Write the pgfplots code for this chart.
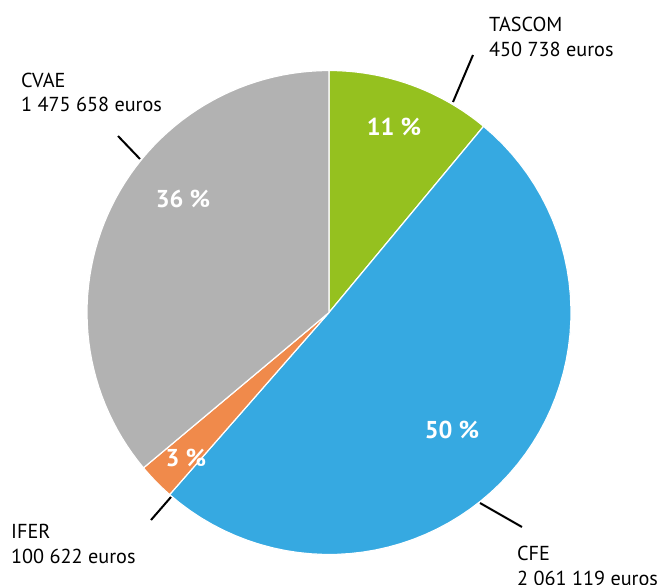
\documentclass[border=0pt]{standalone}
\usepackage{pgfplots}
\pgfplotsset{compat=1.18}
\usepackage{fontspec}
\setmainfont{PT Sans}
\definecolor{cgreen}{HTML}{95C11F}
\definecolor{cblue}{HTML}{36A9E1}
\definecolor{corange}{HTML}{F08A4B}
\definecolor{cgray}{HTML}{B2B2B2}
\begin{document}
\begin{tikzpicture}
\useasboundingbox (0,0) rectangle (657bp,585bp);
% values in thousands of euros
\pgfmathsetmacro{\vT}{450.738}
\pgfmathsetmacro{\vC}{2061.119}
\pgfmathsetmacro{\vI}{100.622}
\pgfmathsetmacro{\vV}{1475.658}
\pgfmathsetmacro{\tot}{\vT+\vC+\vI+\vV}
\pgfmathsetmacro{\aA}{90}
\pgfmathsetmacro{\aB}{\aA-360*(\vT/\tot)}
\pgfmathsetmacro{\aC}{\aB-360*(\vC/\tot)}
\pgfmathsetmacro{\aD}{\aC-360*(\vI/\tot)}
\pgfmathsetmacro{\aE}{\aD-360*(\vV/\tot)}
\begin{axis}[
    x=1bp, y=1bp,
    xmin=0, xmax=657, ymin=0, ymax=585,
    y dir=reverse,
    hide axis, clip=false,
    every axis plot/.append style={draw=white, line width=1.2bp, samples=60, variable=\t},
]
\addplot[fill=cgreen, domain=\aB:\aA] ({329+242*cos(\t)},{312.5-242*sin(\t)}) -- (axis cs:329,312.5) -- cycle;
\addplot[fill=cblue, domain=\aC:\aB] ({329+242*cos(\t)},{312.5-242*sin(\t)}) -- (axis cs:329,312.5) -- cycle;
\addplot[fill=corange, domain=\aD:\aC] ({329+242*cos(\t)},{312.5-242*sin(\t)}) -- (axis cs:329,312.5) -- cycle;
\addplot[fill=cgray, domain=\aE:\aD] ({329+242*cos(\t)},{312.5-242*sin(\t)}) -- (axis cs:329,312.5) -- cycle;

\tikzset{pct/.style={text=white, font=\bfseries\fontsize{24.5}{28}\selectfont, anchor=center},
         lab/.style={font=\fontsize{20.3}{24}\selectfont, anchor=base west, inner sep=0pt},
         lead/.style={line width=2bp, black}}
\node[pct] at (axis cs:394,127) {11 \%};
\node[pct] at (axis cs:183,199) {36 \%};
\node[pct] at (axis cs:452,430) {50 \%};
\node[pct] at (axis cs:186,458) {3 \%};

\node[lab] at (axis cs:489,31) {TASCOM};
\node[lab] at (axis cs:489,56) {450 738 euros};
\node[lab] at (axis cs:21,87) {CVAE};
\node[lab] at (axis cs:21,111) {1 475 658 euros};
\node[lab] at (axis cs:11,538) {IFER};
\node[lab] at (axis cs:11,563) {100 622 euros};
\node[lab] at (axis cs:517,560) {CFE};
\node[lab] at (axis cs:517,585) {2 061 119 euros};

\draw[lead] (axis cs:473,55) -- (axis cs:453,102);
\draw[lead] (axis cs:118,136) -- (axis cs:140,159);
\draw[lead] (axis cs:171,497) -- (axis cs:151,520);
\draw[lead] (axis cs:480,503) -- (axis cs:522,527);
\end{axis}
\end{tikzpicture}
\end{document}
